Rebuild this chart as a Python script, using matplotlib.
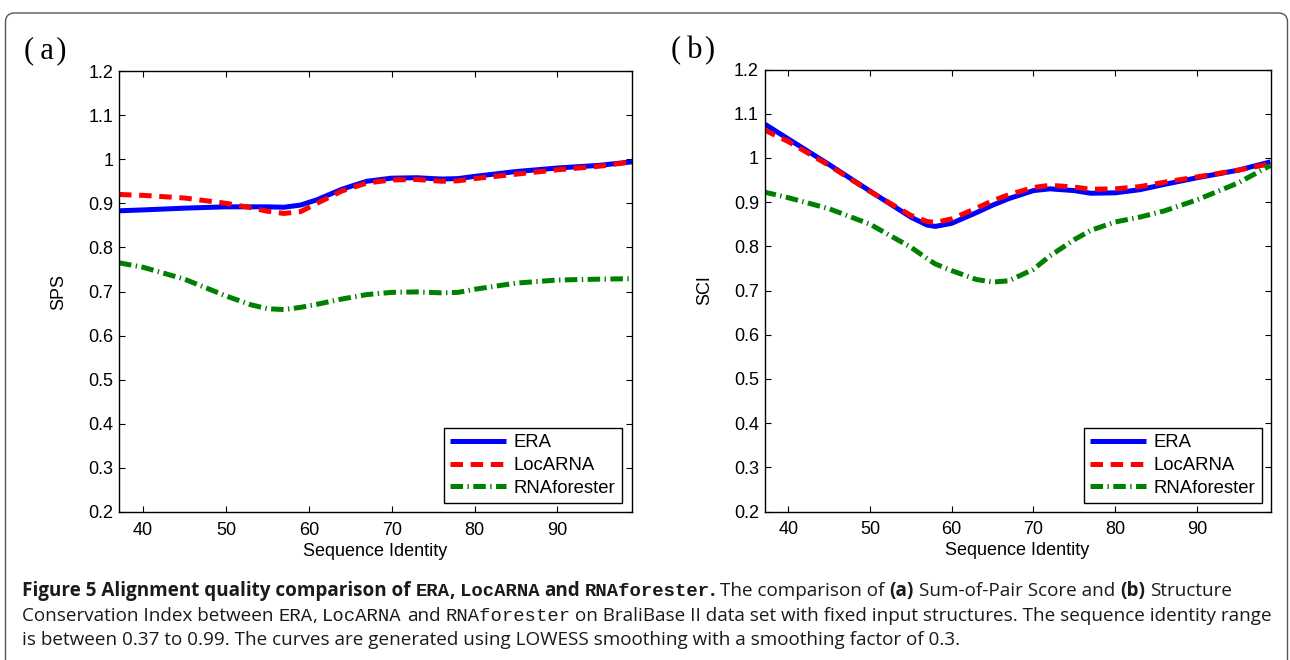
import matplotlib
matplotlib.use("Agg")
import matplotlib.pyplot as plt
from matplotlib.patches import FancyBboxPatch
from matplotlib.transforms import IdentityTransform

# ---------------- data ----------------
x_a = [37.1, 40, 45, 50, 53, 55, 57, 59, 61, 64, 67, 70, 73, 76, 78, 80, 85, 90, 95, 99]
era_a = [0.883, 0.885, 0.889, 0.892, 0.892, 0.892, 0.891, 0.896, 0.908, 0.932, 0.950,
         0.957, 0.958, 0.955, 0.956, 0.961, 0.972, 0.980, 0.986, 0.994]
locarna_a = [0.920, 0.918, 0.912, 0.900, 0.890, 0.882, 0.877, 0.881, 0.900, 0.928, 0.946,
             0.953, 0.954, 0.950, 0.951, 0.956, 0.966, 0.976, 0.984, 0.994]
rnaf_a = [0.765, 0.755, 0.728, 0.690, 0.670, 0.661, 0.659, 0.664, 0.671, 0.683, 0.693,
          0.698, 0.699, 0.697, 0.698, 0.705, 0.719, 0.726, 0.728, 0.729]

x_b = [37.0, 40, 45, 50, 55, 57, 58, 60, 63, 65, 67, 70, 72, 75, 77, 80, 83, 86, 90, 95, 99]
era_b = [1.078, 1.043, 0.985, 0.925, 0.866, 0.848, 0.845, 0.852, 0.876, 0.893, 0.908,
         0.926, 0.930, 0.926, 0.920, 0.921, 0.928, 0.940, 0.955, 0.972, 0.991]
locarna_b = [1.064, 1.037, 0.983, 0.924, 0.870, 0.856, 0.854, 0.862, 0.886, 0.903, 0.917,
             0.933, 0.938, 0.934, 0.929, 0.930, 0.935, 0.945, 0.957, 0.972, 0.987]
rnaf_b = [0.923, 0.910, 0.885, 0.850, 0.798, 0.772, 0.760, 0.745, 0.725, 0.719, 0.722,
          0.748, 0.778, 0.815, 0.836, 0.855, 0.866, 0.880, 0.905, 0.943, 0.983]

series_names = ["ERA", "LocARNA", "RNAforester"]
x_ticks = [40, 50, 60, 70, 80, 90]
y_ticks = [0.2, 0.3, 0.4, 0.5, 0.6, 0.7, 0.8, 0.9, 1.0, 1.1, 1.2]
y_tick_labels = ["0.2", "0.3", "0.4", "0.5", "0.6", "0.7", "0.8", "0.9", "1", "1.1", "1.2"]
panel_letters = ["a", "b"]
y_labels = ["SPS", "SCI"]
x_label = "Sequence Identity"

# ---------------- style ----------------
W, H = 1290, 660
plt.rcParams['lines.scale_dashes'] = False
plt.rcParams['font.family'] = ['Liberation Sans', 'DejaVu Sans']

fig = plt.figure(figsize=(W / 100, H / 100), dpi=100)


def px_axes(left, top, right, bottom):
    return fig.add_axes([left / W, 1 - bottom / H, (right - left) / W, (bottom - top) / H])


axA = px_axes(119, 71, 632, 512)
axB = px_axes(764.5, 69.5, 1270.5, 511.5)

styles = [
    dict(color='#0000FF', lw=3.6, linestyle='-', solid_capstyle='butt'),
    dict(color='#FF0000', lw=3.6, linestyle=(0, (9, 5.5)), dash_capstyle='butt'),
    dict(color='#008000', lw=3.6, linestyle=(0, (9, 3.2, 1.0, 3.2)), dash_capstyle='butt'),
]

panels = [
    (axA, x_a, [era_a, locarna_a, rnaf_a], (503 / 513, 9 / 441)),
    (axB, x_b, [era_b, locarna_b, rnaf_b], (497.5 / 506, 8.5 / 442)),
]

for i, (ax, xs, ys, anchor) in enumerate(panels):
    for name, yv, st in zip(series_names, ys, styles):
        ax.plot(xs, yv, label=name, **st)
    ax.set_xlim(37.1, 99)
    ax.set_ylim(0.2, 1.2)
    ax.set_xticks(x_ticks)
    ax.set_xticklabels([str(t) for t in x_ticks])
    ax.set_yticks(y_ticks)
    ax.set_yticklabels(y_tick_labels)
    ax.tick_params(direction='in', length=4, width=0.8, top=True, right=True,
                   labelsize=13, colors='black')
    ax.tick_params(axis='y', pad=4)
    ax.tick_params(axis='x', pad=7)
    for sp in ax.spines.values():
        sp.set_linewidth(1.0)
        sp.set_color('black')
    ax.set_xlabel(x_label, fontsize=13, labelpad=3)
    ax.set_ylabel(y_labels[i], fontsize=13, labelpad=15)
    leg = ax.legend(loc='lower right', bbox_to_anchor=anchor, borderaxespad=0,
                    fontsize=13.3, handlelength=3.0, handletextpad=0.45,
                    labelspacing=0.3, borderpad=0.35, fancybox=False,
                    framealpha=1, edgecolor='black')
    leg.get_frame().set_linewidth(1.0)

# panel letters "(a)" / "(b)" with slightly open spacing
SERIF = ['Liberation Serif', 'DejaVu Serif']
for letter, xc in zip(panel_letters, [45, 693]):
    fig.text(xc / W, 1 - 51 / H, "(\u2009" + letter + "\u200a)", fontsize=22, family=SERIF,
             ha='center', va='center')

# border (rounded rectangle extending below the image)
border = FancyBboxPatch((5.5, -40), 1282, 647 + 40, boxstyle="round,pad=0,rounding_size=9",
                        transform=IdentityTransform(), fill=False, edgecolor='#555555',
                        linewidth=1.0, figure=fig)
fig.patches.append(border)

# ---------------- caption ----------------
SANS = ['Open Sans', 'DejaVu Sans']
MONO = ['Liberation Mono', 'DejaVu Sans Mono']
renderer = fig.canvas.get_renderer()

cap_lines = [
    [("Figure 5 Alignment quality comparison of ", 'bold', SANS), ("ERA", 'bold', MONO),
     (", ", 'bold', SANS), ("LocARNA", 'bold', MONO), (" and ", 'bold', SANS),
     ("RNAforester", 'bold', MONO), (".", 'bold', SANS),
     (" The comparison of ", 'normal', SANS), ("(a)", 'bold', SANS),
     (" Sum-of-Pair Score and ", 'normal', SANS), ("(b)", 'bold', SANS),
     (" Structure", 'normal', SANS)],
    [("Conservation Index between ", 'normal', SANS), ("ERA", 'normal', MONO),
     (", ", 'normal', SANS), ("LocARNA", 'normal', MONO), (" and ", 'normal', SANS),
     ("RNAforester", 'normal', MONO),
     (" on BraliBase II data set with fixed input structures. The sequence identity range",
      'normal', SANS)],
    [("is between 0.37 to 0.99. The curves are generated using LOWESS smoothing with a "
      "smoothing factor of 0.3.", 'normal', SANS)],
]
cap_y = [591, 616, 640]


def text_w(s, size, weight, fam):
    t = fig.text(0, 0, s, fontsize=size, fontweight=weight, family=fam)
    w = t.get_window_extent(renderer).width
    t.remove()
    return w


def space_w(size, weight, fam):
    return text_w("n n", size, weight, fam) - text_w("nn", size, weight, fam)


def line_width(pieces, size):
    total = 0
    for s, wgt, fam in pieces:
        core = s.strip(' ')
        lead = len(s) - len(s.lstrip(' '))
        trail = len(s) - len(s.rstrip(' '))
        sw = space_w(size, wgt, fam)
        total += (lead + trail) * sw + text_w(core, size, wgt, fam)
    return total


def draw_line(pieces, size, y):
    x = 22
    for s, wgt, fam in pieces:
        core = s.strip(' ')
        lead = len(s) - len(s.lstrip(' '))
        trail = len(s) - len(s.rstrip(' '))
        sw = space_w(size, wgt, fam)
        x += lead * sw
        t = fig.text(x / W, 1 - y / H, core, fontsize=size, fontweight=wgt, family=fam,
                     ha='left', va='baseline', color='#1a1a1a')
        x += t.get_window_extent(renderer).width + trail * sw


base = 10.0
w2 = line_width(cap_lines[1], base)
size = base * (1268 - 22) / w2
for pieces, y in zip(cap_lines, cap_y):
    draw_line(pieces, size, y + 5)

fig.savefig("out.png", dpi=100)
